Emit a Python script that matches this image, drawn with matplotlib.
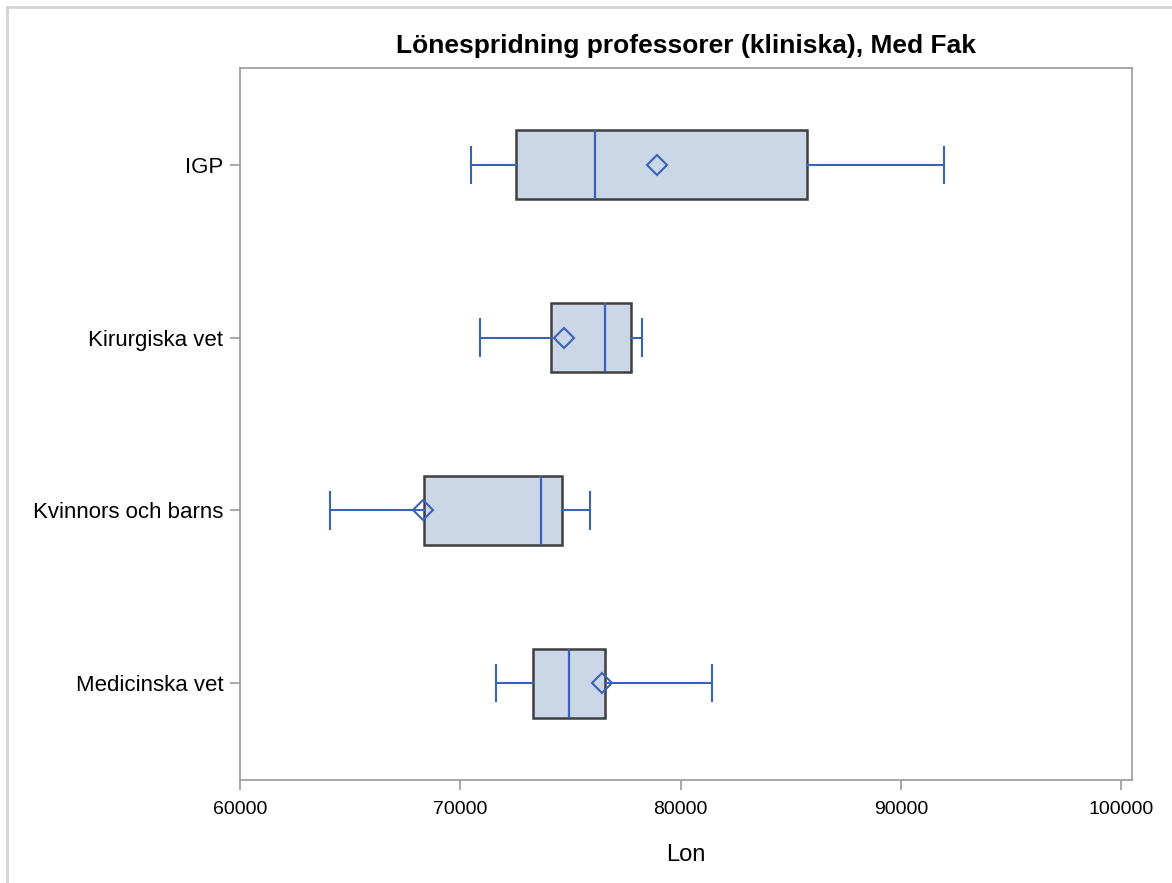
import matplotlib.pyplot as plt
from matplotlib.lines import Line2D

plt.rcParams['font.family'] = ['Liberation Sans', 'DejaVu Sans']

# Box statistics (Lon, SEK/month)
groups = ['IGP', 'Kirurgiska vet', 'Kvinnors och barns', 'Medicinska vet']
whislo = [70500, 70900, 64100, 71600]
q1 = [72550, 74100, 68350, 73300]
med = [76100, 76550, 73650, 74950]
q3 = [85750, 77750, 74600, 76550]
whishi = [91950, 78250, 75900, 81450]
mean = [78950, 74700, 68300, 76450]

box_fill = '#cbd6e6'
box_edge = '#3f3f3f'
blue = '#3a62b8'

fig = plt.figure(figsize=(11.72, 8.83), dpi=100)
ax = fig.add_axes([0.2048, 0.1166, 0.7611, 0.8064])

stats = []
for i, g in enumerate(groups):
    stats.append({'label': g, 'whislo': whislo[i], 'q1': q1[i], 'med': med[i],
                  'q3': q3[i], 'whishi': whishi[i], 'mean': mean[i], 'fliers': []})

# top-to-bottom order like the reference
positions = list(range(len(groups) - 1, -1, -1))
ax.bxp(stats, positions=positions, vert=False, widths=0.4, patch_artist=True,
       showmeans=True, showfliers=False,
       boxprops=dict(facecolor=box_fill, edgecolor=box_edge, linewidth=1.8),
       medianprops=dict(color=blue, linewidth=1.6),
       whiskerprops=dict(color=blue, linewidth=1.5),
       capprops=dict(color=blue, linewidth=1.5),
       capwidths=0.21,
       meanprops=dict(marker='D', markersize=10, markerfacecolor='none',
                      markeredgecolor=blue, markeredgewidth=1.5),
       zorder=3)

ax.set_xlim(60000, 100500)
ax.set_ylim(-0.56, 3.56)
ax.set_xticks([60000, 70000, 80000, 90000, 100000])
ax.set_yticks(positions)
ax.set_yticklabels(groups)
ax.tick_params(axis='both', color='#9a9a9a', length=7, width=1.2)
ax.tick_params(axis='x', labelsize=14, pad=8)
ax.tick_params(axis='y', labelsize=16, pad=5)
for s in ax.spines.values():
    s.set_color('#9a9a9a')
    s.set_linewidth(1.2)

ax.set_xlabel('Lon', fontsize=17, labelpad=19)
ax.set_title('Lönespridning professorer (kliniska), Med Fak', fontsize=19,
             fontweight='bold', pad=11)

# light frame along the top and left of the image
fig.add_artist(Line2D([0.006, 0.006], [0.0, 0.992], color='#d4d4d4', linewidth=2,
                      transform=fig.transFigure))
fig.add_artist(Line2D([0.006, 1.0], [0.992, 0.992], color='#d4d4d4', linewidth=2,
                      transform=fig.transFigure))

fig.savefig('out.png', dpi=100)
